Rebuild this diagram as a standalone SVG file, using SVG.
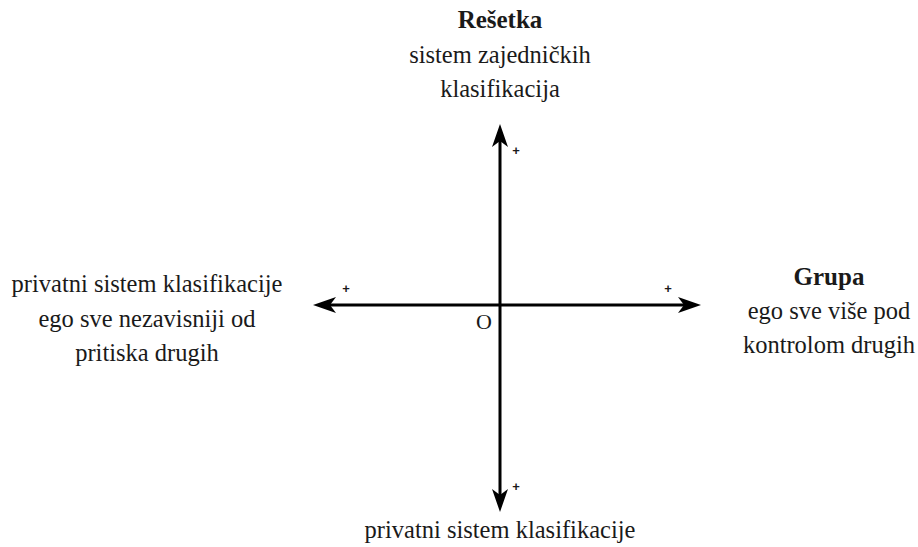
<svg xmlns="http://www.w3.org/2000/svg" width="918" height="547" viewBox="0 0 918 547">
<style>
text{font-family:"Liberation Serif","DejaVu Serif",serif;fill:#1a1a1a;text-anchor:middle}
.t{font-size:24.5px}
.b{font-size:25px;font-weight:bold}
.p{font-size:13px;font-weight:bold;font-family:"Liberation Sans",sans-serif}
.ax{stroke:#000;stroke-width:3;fill:none}
</style>
<defs>
<marker id="ah" markerUnits="userSpaceOnUse" markerWidth="30" markerHeight="20" viewBox="0 -10 30 20" refX="6" refY="0" orient="auto-start-reverse">
<path d="M0,-8 L23,0 L0,8 L6,0 Z" fill="#000"/>
</marker>
</defs>
<rect width="918" height="547" fill="#fff"/>
<g id="connectors">
<line class="ax" x1="500" y1="141" x2="500" y2="495" marker-start="url(#ah)" marker-end="url(#ah)"/>
<line class="ax" x1="330" y1="305" x2="684" y2="305" marker-start="url(#ah)" marker-end="url(#ah)"/>
</g>
<g id="top">
<text class="b" x="500" y="28">Rešetka</text>
<text class="t" x="500" y="63">sistem zajedničkih</text>
<text class="t" x="500" y="97">klasifikacija</text>
<text class="p" x="516" y="155">+</text>
</g>
<g id="left">
<text class="t" x="147" y="292">privatni sistem klasifikacije</text>
<text class="t" x="147" y="327">ego sve nezavisniji od</text>
<text class="t" x="147" y="361">pritiska drugih</text>
<text class="p" x="346" y="293">+</text>
</g>
<g id="right">
<text class="b" x="829" y="285">Grupa</text>
<text class="t" x="829" y="319">ego sve više pod</text>
<text class="t" x="829" y="353">kontrolom drugih</text>
<text class="p" x="668" y="293">+</text>
</g>
<g id="bottom">
<text class="t" x="500" y="538">privatni sistem klasifikacije</text>
<text class="p" x="516" y="491">+</text>
</g>
<g id="origin">
<text class="t" x="484" y="329" style="font-size:22px">O</text>
</g>
</svg>
